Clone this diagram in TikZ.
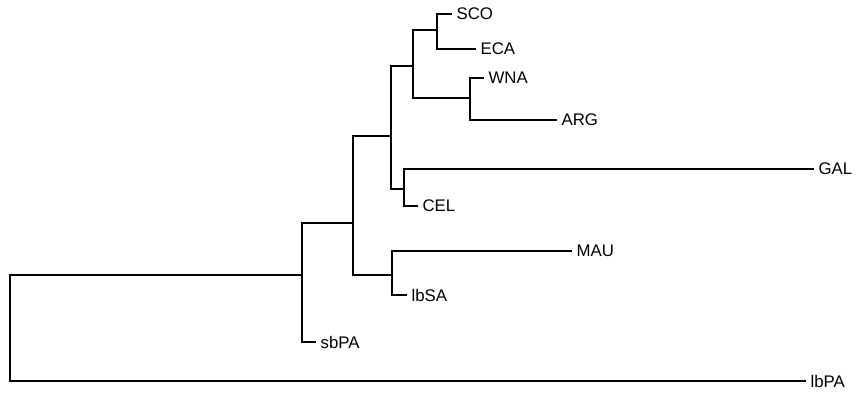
\documentclass[tikz,border=0pt]{standalone}
\usepackage{fontspec}
\setmainfont{Liberation Sans}
\tikzset{
  branch/.style={line width=0.8pt, line cap=rect, color=black},
  taxon/.style={anchor=west, inner xsep=2.6pt, inner ysep=0pt,
                font=\fontsize{8.4}{10}\selectfont},
}
\begin{document}
\begin{tikzpicture}[x=0.5pt, y=-0.5pt]
  \useasboundingbox (0,0) rectangle (861,394);
  % tips
  \node[taxon] (sco)  at (451,14)  {SCO};
  \node[taxon] (eca)  at (475,49)  {ECA};
  \node[taxon] (wna)  at (483,78)  {WNA};
  \node[taxon] (arg)  at (556,120) {ARG};
  \node[taxon] (gal)  at (813,169) {GAL};
  \node[taxon] (cel)  at (417,206) {CEL};
  \node[taxon] (mau)  at (571,251) {MAU};
  \node[taxon] (lbsa) at (406,295) {lbSA};
  \node[taxon] (sbpa) at (315,342) {sbPA};
  \node[taxon] (lbpa) at (805,381) {lbPA};

  % internal nodes
  \coordinate (n1)   at (437,30);
  \coordinate (n2)   at (470,98);
  \coordinate (n3)   at (413,66);
  \coordinate (n4)   at (404,189);
  \coordinate (n5)   at (391,136);
  \coordinate (n6)   at (392,275);
  \coordinate (n7)   at (353,223);
  \coordinate (n8)   at (302,275);
  \coordinate (root) at (10,328);

  \draw[branch] (sco.west) -| (n1) |- (eca.west);
  \draw[branch] (wna.west) -| (n2) |- (arg.west);
  \draw[branch] (n1) -| (n3) |- (n2);
  \draw[branch] (gal.west) -| (n4) |- (cel.west);
  \draw[branch] (n3) -| (n5) |- (n4);
  \draw[branch] (mau.west) -| (n6) |- (lbsa.west);
  \draw[branch] (n5) -| (n7) |- (n6);
  \draw[branch] (n7) -| (n8) |- (sbpa.west);
  \draw[branch] (n8) -| (root) |- (lbpa.west);
\end{tikzpicture}
\end{document}
